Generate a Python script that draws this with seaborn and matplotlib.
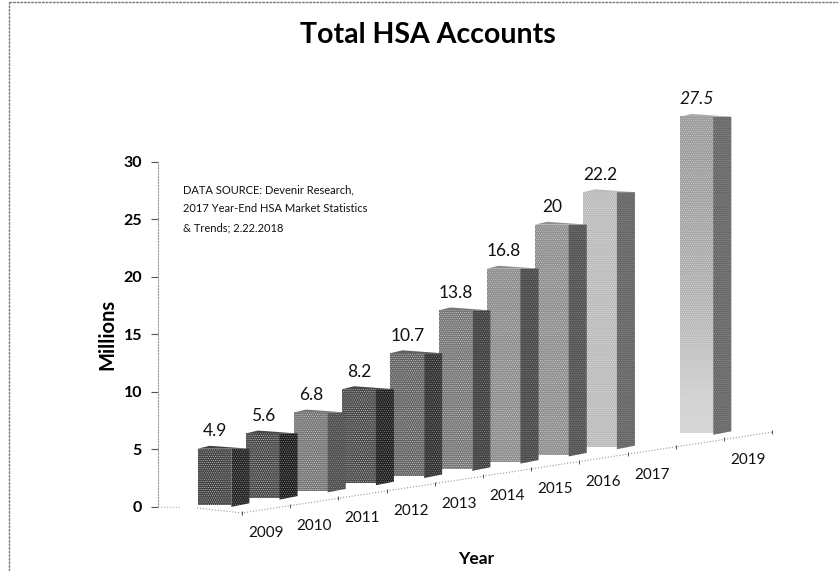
import matplotlib
matplotlib.use('Agg')
import matplotlib.pyplot as plt
import numpy as np
import pandas as pd
import seaborn as sns

# Data
years = ['2009', '2010', '2011', '2012', '2013', '2014', '2015', '2016', '2017', '2018', '2019']
accounts = [4.9, 5.6, 6.8, 8.2, 10.7, 13.8, 16.8, 20, 22.2, None, 27.5]
value_labels = ['4.9', '5.6', '6.8', '8.2', '10.7', '13.8', '16.8', '20', '22.2', '', '27.5']
y_ticks = [0, 5, 10, 15, 20, 25, 30]
source_note = 'DATA SOURCE: Devenir Research,\n2017 Year-End HSA Market Statistics\n& Trends; 2.22.2018'

# Greys for front and side faces
front_cols = ['#404040', '#464646', '#767676', '#484848', '#626262', '#767676', '#8c8c8c', '#8e8e8e', '#bcbcbc', '#ffffff', '#acacac']
side_cols = ['#242424', '#1e1e1e', '#505050', '#202020', '#323232', '#404040', '#484848', '#525252', '#666666', '#ffffff', '#686868']

sns.set_theme(style='white')
plt.rcParams['font.family'] = ['Lato', 'DejaVu Sans']
plt.rcParams['hatch.linewidth'] = 0.35

W, H = 838, 571
fig = plt.figure(figsize=(W / 100, H / 100), dpi=100)
ax = fig.add_axes([158 / W, 1 - 540 / H, (775 - 158) / W, (540 - 100) / H])

df = pd.DataFrame({'Year': years, 'Accounts': accounts})
sns.barplot(data=df, x='Year', y='Accounts', hue='Year', order=years, hue_order=years,
            palette=front_cols, width=0.7, legend=False, linewidth=0, ax=ax)

# x: 48.2 px per category, y: 11.5 px per million
xlim = (-1.172, 11.63)
ylim = (-2.87, 35.39)
rise = 0.626
lift = 0.17
depth = 18 / 48.2
slant = 3.5 / 11.5

# Each bar stands on the rising floor, with a side face and a shallow top
for p in ax.patches:
    i = round(p.get_x() + p.get_width() / 2)
    h = p.get_height()
    x0 = p.get_x()
    y0 = lift + rise * i
    x1 = x0 + p.get_width()
    p.set_y(y0)
    p.set_hatch('........')
    p.set_edgecolor('#dddddd')
    z = p.get_zorder()
    ax.fill([x1, x1 + depth, x1 + depth, x1], [y0 - 0.15, y0 + slant - 0.15, y0 + h, y0 + h],
            facecolor=side_cols[i], edgecolor='#999999', hatch='........', lw=0, zorder=z)
    ax.fill([x0, x0 + 0.25, x1 + depth, x1], [y0 + h, y0 + h + 0.25, y0 + h, y0 + h],
            color=front_cols[i], lw=0, zorder=z)
    ax.annotate(value_labels[i], (i, y0 + h), xytext=(0, 12.5), textcoords='offset points',
                ha='center', va='center', fontsize=12.5, color='#111111',
                style='italic' if years[i] == '2019' else 'normal')
    # The last bar fades towards its foot
    if years[i] == '2019':
        p.set_facecolor('none')
        shade = np.array([[0.60], [0.64], [0.68], [0.74], [0.84]])
        ax.imshow(shade, cmap='gray', vmin=0, vmax=1, aspect='auto', interpolation='bicubic',
                  extent=(x0, x1, y0, y0 + h), zorder=z - 0.1)

ax.set_xlim(xlim)
ax.set_ylim(ylim)

# Floor axis, its ticks and the year labels
floor_x = [i + 0.57 for i in range(12)]
floor_y = [-0.52 + 0.639 * i for i in range(12)]
ax.plot([-0.36, floor_x[0], floor_x[-1]], [-0.09, floor_y[0], floor_y[-1]],
        color='#999999', lw=0.8, ls=':', zorder=0)
ax.plot(floor_x, floor_y, ls='', marker='|', ms=3.5, mew=0.7, color='#555555', zorder=0)
ax.plot([xlim[0], -0.7], [0, -0.05], color='#aaaaaa', lw=0.8, ls=':', zorder=0)
for i, yr in enumerate(years):
    if yr != '2018':
        ax.text(i + 1.07, -2.26 + 0.635 * i, yr, ha='center', va='center', fontsize=11, color='#111111')

ax.set_yticks(y_ticks)
ax.set_xticks([])
ax.set_xlabel('')
ax.set_ylabel('')
ax.tick_params(axis='y', left=True, length=5, width=0.8, color='#555555', pad=6.5)
for lab in ax.get_yticklabels():
    lab.set_fontweight('bold')
    lab.set_fontsize(11.5)
    lab.set_color('#000000')
sns.despine(ax=ax, bottom=True)
ax.spines['left'].set_bounds(0, 30)
ax.spines['left'].set_linestyle(':')
ax.spines['left'].set_linewidth(0.8)
ax.spines['left'].set_color('#999999')

# Texts placed in figure pixels
fig.text(428 / W, 1 - 35 / H, 'Total HSA Accounts', ha='center', va='center', fontsize=20.5, fontweight='bold', color='#000000')
fig.text(107 / W, 1 - 334 / H, 'Millions', rotation=90, ha='center', va='center', fontsize=14.5, fontweight='bold', color='#000000')
fig.text(476 / W, 1 - 559 / H, 'Year', ha='center', va='center', fontsize=12.5, fontweight='bold', color='#000000')
fig.text(183 / W, 1 - 209 / H, source_note, ha='left', va='center', fontsize=8, linespacing=1.89, color='#111111')

# Scanned page frame, left and top only
fig.add_artist(plt.Line2D([9 / W, 9 / W], [0, 1 - 2 / H], color='#777777', lw=1, ls=(0, (2, 0.6))))
fig.add_artist(plt.Line2D([9 / W, 1], [1 - 2 / H, 1 - 2 / H], color='#777777', lw=1, ls=(0, (2, 0.6))))

fig.savefig('out.png', dpi=100)
